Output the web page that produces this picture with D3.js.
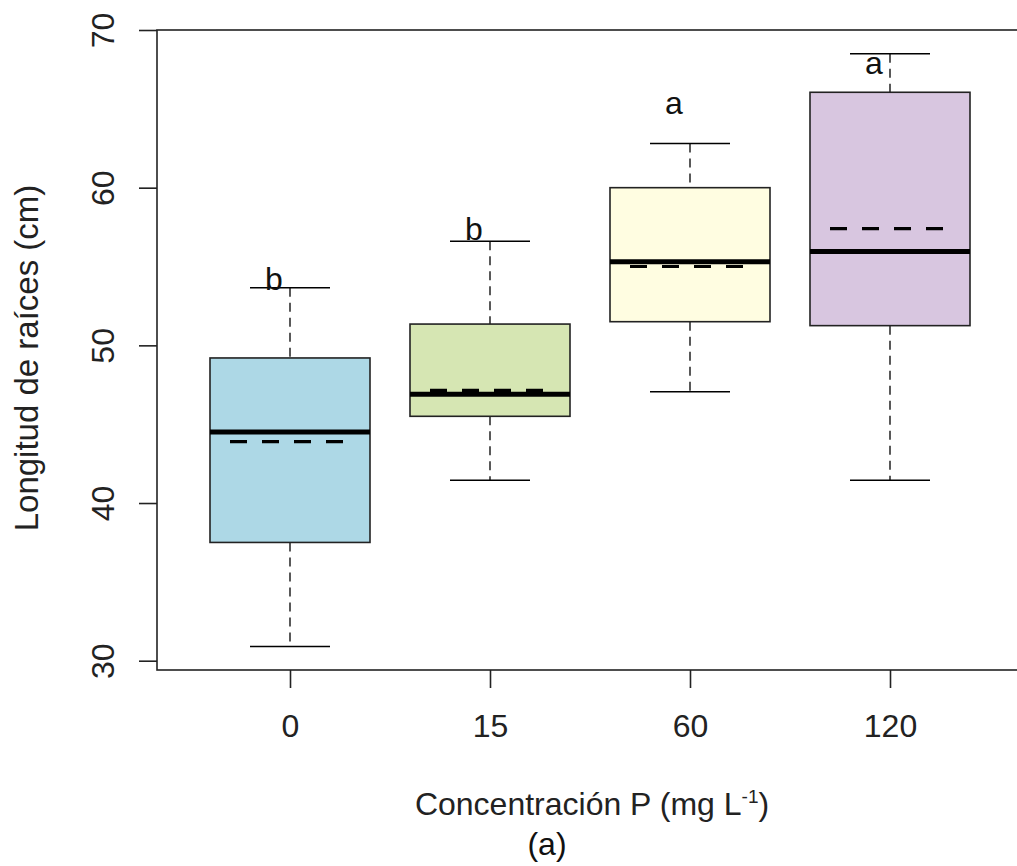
<!DOCTYPE html>
<html>
<head>
<meta charset="utf-8">
<title>Longitud de raíces</title>
<script src="https://cdn.jsdelivr.net/npm/d3@7"></script>
<style>
  body { margin: 0; background: #fff; }
  svg { display: block; font-family: Arial, "Liberation Sans", sans-serif; }
</style>
</head>
<body>
<div id="chart"></div>
<script>
// data
var categories = ["0", "15", "60", "120"];
var whiskerLow = [30.9, 41.45, 47.05, 41.45];
var q1 = [37.5, 45.5, 51.5, 51.25];
var medians = [44.5, 46.9, 55.3, 55.95];
var q3 = [49.2, 51.35, 60.0, 66.05];
var whiskerHigh = [53.65, 56.6, 62.8, 68.5];
var means = [43.9, 47.15, 55.0, 57.4];
var letters = ["b", "b", "a", "a"];
var letterPos = [54.2, 57.4, 65.4, 67.9];
var colors = ["#add8e6", "#d6e6b3", "#fffde1", "#d8c6e0"];
var yTicks = [30, 40, 50, 60, 70];

var W = 1017, H = 866;
var mLeft = 157, mTop = 30, mRight = 1023, mBottom = 670;
var fs = 32;

var svg = d3.select("#chart").append("svg")
    .attr("width", W).attr("height", H);

// categories sit at 1..4, axis runs from 0.335 to 4.665
var x = d3.scaleLinear().domain([0.335, 4.665]).range([mLeft, mRight]);
var y = d3.scaleLinear().domain([30, 70]).range([660.7, 30]);

var rows = categories.map(function(c, i) {
  return {cat: c, pos: i + 1, lo: whiskerLow[i], q1: q1[i], med: medians[i],
          q3: q3[i], hi: whiskerHigh[i], mean: means[i], letter: letters[i],
          ly: letterPos[i], col: colors[i]};
});

var g = svg.selectAll("g.box").data(rows).enter().append("g").attr("class", "box");

// whiskers
g.append("line")
    .attr("x1", d => x(d.pos)).attr("x2", d => x(d.pos))
    .attr("y1", d => y(d.hi)).attr("y2", d => y(d.q3))
    .attr("stroke", "#000").attr("stroke-width", 1.3).attr("stroke-dasharray", "9,6");
g.append("line")
    .attr("x1", d => x(d.pos)).attr("x2", d => x(d.pos))
    .attr("y1", d => y(d.q1)).attr("y2", d => y(d.lo))
    .attr("stroke", "#000").attr("stroke-width", 1.3).attr("stroke-dasharray", "9,6");
// caps
["hi", "lo"].forEach(function(k) {
  g.append("line")
      .attr("x1", d => x(d.pos - 0.2)).attr("x2", d => x(d.pos + 0.2))
      .attr("y1", d => y(d[k])).attr("y2", d => y(d[k]))
      .attr("stroke", "#000").attr("stroke-width", 1.5);
});

// boxes
g.append("rect")
    .attr("x", d => x(d.pos - 0.4))
    .attr("width", x(1.4) - x(0.6))
    .attr("y", d => y(d.q3))
    .attr("height", d => y(d.q1) - y(d.q3))
    .attr("fill", d => d.col)
    .attr("stroke", "#222").attr("stroke-width", 1.6);

// median
g.append("line")
    .attr("x1", d => x(d.pos - 0.4)).attr("x2", d => x(d.pos + 0.4))
    .attr("y1", d => y(d.med)).attr("y2", d => y(d.med))
    .attr("stroke", "#000").attr("stroke-width", 5);

// mean
g.append("line")
    .attr("x1", d => x(d.pos - 0.3)).attr("x2", d => x(d.pos + 0.3))
    .attr("y1", d => y(d.mean)).attr("y2", d => y(d.mean))
    .attr("stroke", "#000").attr("stroke-width", 3.2).attr("stroke-dasharray", "17,15");

// letters
g.append("text")
    .attr("x", d => x(d.pos - 0.08))
    .attr("y", d => y(d.ly))
    .attr("dy", "0.35em")
    .attr("text-anchor", "middle")
    .attr("font-size", fs)
    .attr("fill", "#111")
    .text(d => d.letter);

// axes
var yAxis = d3.axisLeft(y).tickValues(yTicks).tickSize(18).tickPadding(10);
var ya = svg.append("g").attr("transform", "translate(" + mLeft + ",0)").call(yAxis);
ya.select(".domain").remove();
ya.selectAll("text")
    .attr("font-size", fs).attr("fill", "#222")
    .attr("x", -43).attr("y", 0).attr("dy", null)
    .attr("transform", "rotate(-90,-43,0)")
    .attr("text-anchor", "middle");

var xAxis = d3.axisBottom(x).tickValues([1, 2, 3, 4])
    .tickFormat(function(d) { return categories[d - 1]; })
    .tickSize(18).tickPadding(26);
var xa = svg.append("g").attr("transform", "translate(0," + mBottom + ")").call(xAxis);
xa.selectAll("text").attr("font-size", fs).attr("fill", "#222");
xa.select(".domain").remove();

svg.selectAll(".tick line").attr("stroke", "#222").attr("stroke-width", 1.6);

// plot frame
svg.append("rect")
    .attr("x", mLeft).attr("y", mTop)
    .attr("width", mRight - mLeft).attr("height", mBottom - mTop)
    .attr("fill", "none").attr("stroke", "#222").attr("stroke-width", 1.6);

// titles
svg.append("text")
    .attr("transform", "translate(38,358) rotate(-90)")
    .attr("text-anchor", "middle")
    .attr("font-size", 33).attr("fill", "#222")
    .text("Longitud de raíces (cm)");

var xt = svg.append("text")
    .attr("x", 592).attr("y", 815)
    .attr("text-anchor", "middle")
    .attr("font-size", fs).attr("fill", "#222");
xt.append("tspan").text("Concentración P (mg L");
xt.append("tspan").attr("font-size", 19).attr("dy", -12).text("-1");
xt.append("tspan").attr("dy", 12).text(")");

svg.append("text")
    .attr("x", 547).attr("y", 855)
    .attr("text-anchor", "middle")
    .attr("font-size", fs).attr("fill", "#111")
    .text("(a)");
</script>
</body>
</html>
